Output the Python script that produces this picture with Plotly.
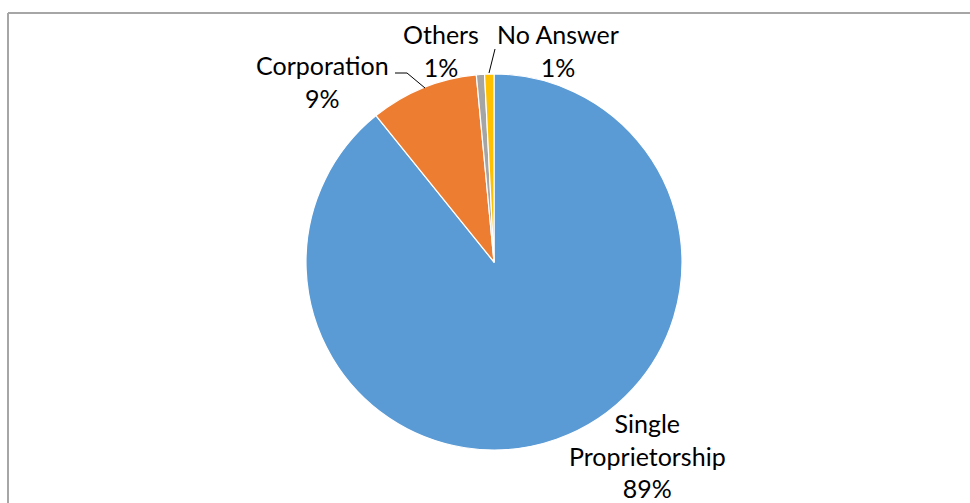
import plotly.graph_objects as go

categories = ["Single Proprietorship", "Corporation", "Others", "No Answer"]
values = [89.2, 9.3, 0.7, 0.8]
colors = ["#5B9BD5", "#ED7D31", "#A5A5A5", "#FFC000"]
label_text = ["Single<br>Proprietorship", "Corporation", "Others", "No Answer"]

W, H = 970, 503
cx, cy, r = 494, 262, 188

def px(x):
    return x / W

def py(y):
    return 1 - y / H

fig = go.Figure(go.Pie(
    labels=categories, values=values, sort=False, direction="clockwise",
    rotation=0, marker=dict(colors=colors, line=dict(color="white", width=1.2)),
    textinfo="none", hoverinfo="label+percent", showlegend=False,
    domain=dict(x=[px(cx - r), px(cx + r)], y=[py(cy + r), py(cy - r)]),
))

total = sum(values)
pcts = [f"{round(v / total * 100)}%" for v in values]
# label centre positions (pixels)
label_pos = [(647, 455), (322, 82), (441, 50), (558, 50)]
annotations = []
for txt, pct, (x, y) in zip(label_text, pcts, label_pos):
    annotations.append(dict(
        x=px(x), y=py(y), xref="paper", yref="paper", showarrow=False,
        text=f"{txt}<br>{pct}", xanchor="center", yanchor="middle",
        font=dict(family="Lato", size=25, color="#000000"), align="center",
    ))

line_style = dict(color="#000000", width=1)
shapes = [
    dict(type="line", xref="paper", yref="paper", x0=px(8), y0=py(13), x1=1, y1=py(13),
         line=dict(color="#A6A6A6", width=2)),
    dict(type="line", xref="paper", yref="paper", x0=px(8), y0=py(13), x1=px(8), y1=0,
         line=dict(color="#A6A6A6", width=2)),
    dict(type="path", xref="paper", yref="paper",
         path=f"M {px(395)},{py(73)} L {px(407)},{py(73)} L {px(425)},{py(88)}", line=line_style),
    dict(type="line", xref="paper", yref="paper", x0=px(495), y0=py(49), x1=px(489), y1=py(73),
         line=line_style),
]

fig.update_layout(
    width=W, height=H, margin=dict(l=0, r=0, t=0, b=0),
    paper_bgcolor="white", plot_bgcolor="white",
    annotations=annotations, shapes=shapes,
)
fig.write_html("out.html")
